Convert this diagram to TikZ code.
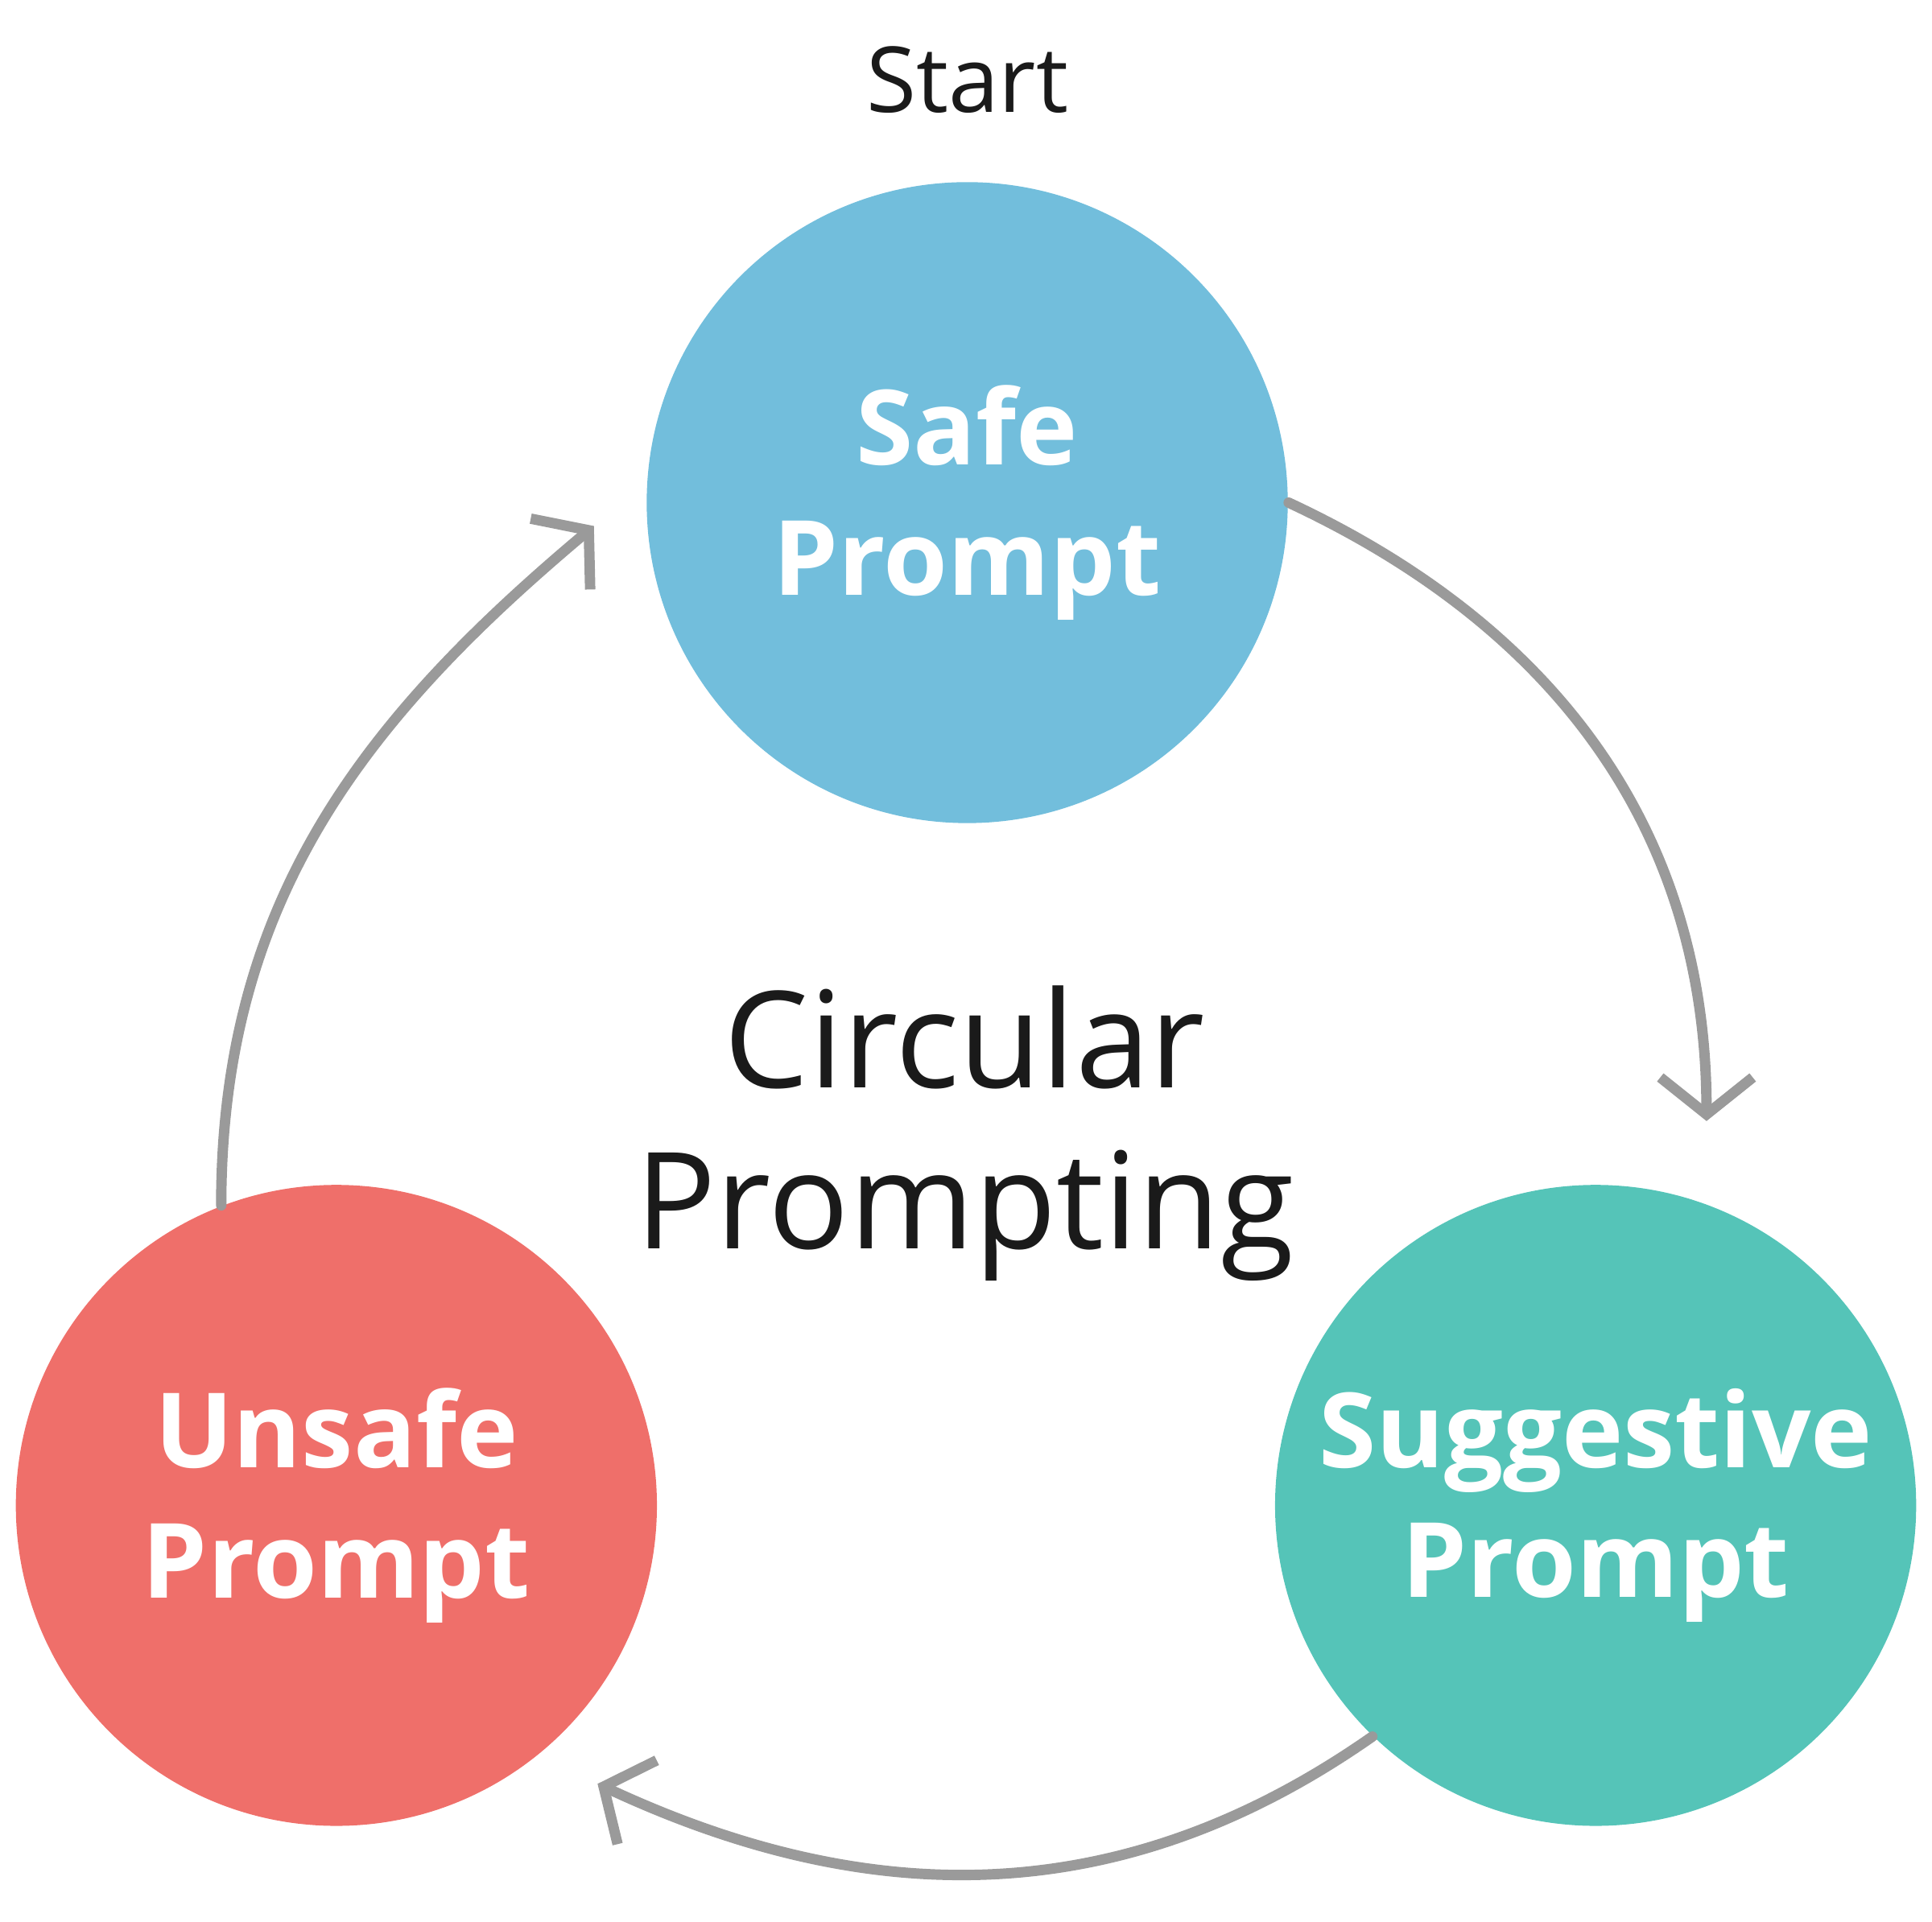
\documentclass[tikz,border=0pt]{standalone}
\usepackage{fontspec}
\setmainfont{Open Sans}
\usetikzlibrary{arrows.meta}
\definecolor{safec}{HTML}{72BEDC}
\definecolor{suggc}{HTML}{55C4B8}
\definecolor{unsafec}{HTML}{EF6F6A}
\definecolor{arrc}{HTML}{9A9A9A}
\definecolor{txtc}{HTML}{1A1A1A}
\tikzset{
  stage/.style={circle, minimum size=5.2cm, inner sep=0pt, text=white, align=center,
    font=\fontsize{24}{30}\selectfont\bfseries},
  flow/.style={draw=arrc, line width=2.4pt, line cap=round,
    -{Straight Barb[length=0.3cm,width=0.75cm,line width=2.4pt]}}
}
\begin{document}
\begin{tikzpicture}[x=0.01cm,y=0.01cm]
\useasboundingbox (0,0) rectangle (1568,1560);
\node[stage, fill=safec] (safe) at (785,1152) {Safe\\Prompt};
\node[stage, fill=unsafec] (unsafe) at (273,338) {Unsafe\\Prompt};
\node[stage, fill=suggc] (sugg) at (1295,338) {Suggestive\\Prompt};
\node[text=txtc, font=\fontsize{21}{25}\selectfont] (start) at (785,1495) {Start};
\node[text=txtc, align=center, font=\fontsize{31}{37}\selectfont] (title) at (783,640) {Circular\\Prompting};
\coordinate (e1) at (1385,650);
\coordinate (e2) at (485,112);
\coordinate (e3) at (482,1133);
\draw[flow] (safe.east) to[out=-25,in=90] (e1);
\draw[flow] (sugg.-134) to[out=-145,in=-25] (e2);
\draw[flow] (unsafe.111) to[out=90,in=-140] (e3);
\end{tikzpicture}
\end{document}
